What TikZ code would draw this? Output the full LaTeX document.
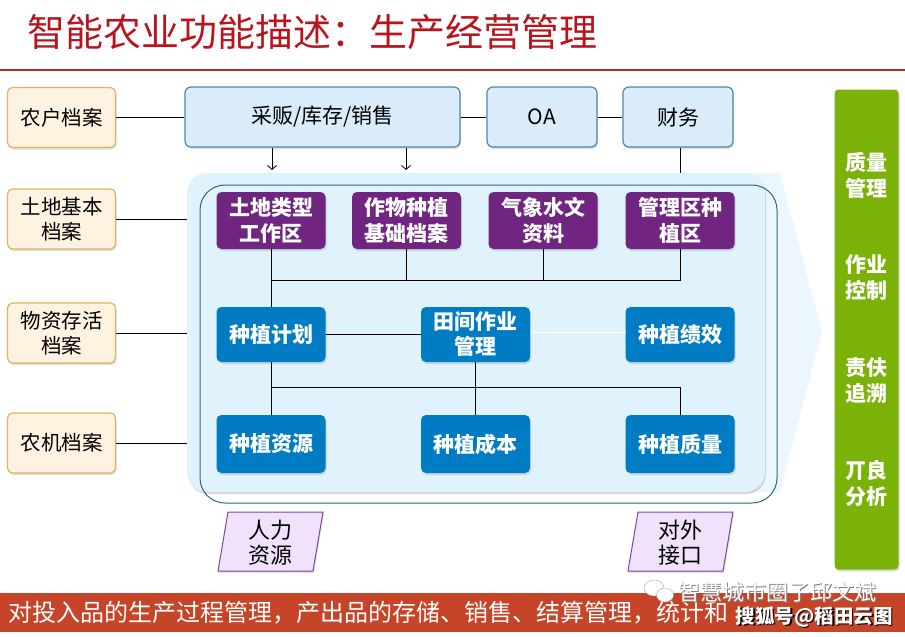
\documentclass[tikz,border=0pt]{standalone}
\usepackage{fontspec}
\setmainfont{Noto Sans CJK SC}
\usetikzlibrary{shadows,arrows.meta}
\definecolor{titlered}{RGB}{185,20,30}
\definecolor{linered}{RGB}{200,40,40}
\definecolor{leftfill}{RGB}{253,243,224}
\definecolor{leftdraw}{RGB}{225,178,100}
\definecolor{topfill}{RGB}{218,236,250}
\definecolor{topdraw}{RGB}{80,135,165}
\definecolor{purp}{RGB}{112,38,128}
\definecolor{blu}{RGB}{0,124,196}
\definecolor{grn}{RGB}{122,178,8}
\definecolor{parfill}{RGB}{240,226,250}
\definecolor{pardraw}{RGB}{125,70,160}
\definecolor{bannercol}{RGB}{198,68,40}
\definecolor{contfill}{RGB}{224,242,251}
\definecolor{chevfill}{RGB}{236,247,253}
\definecolor{tealline}{RGB}{45,105,125}
\tikzset{
  shad/.style={drop shadow={shadow xshift=1pt,shadow yshift=-2pt,opacity=0.25}},
  leftbox/.style={draw=leftdraw, fill=leftfill, rounded corners=5pt, line width=1.2pt,
    minimum width=108pt, minimum height=60pt, inner sep=0pt, align=center,
    font=\fontsize{20.5}{25}\selectfont, shad},
  topbox/.style={draw=topdraw, fill=topfill, rounded corners=6pt, line width=1.2pt,
    minimum height=60pt, inner sep=0pt, align=center,
    font=\fontsize{21}{25}\selectfont, shad},
  purpbox/.style={fill=purp, rounded corners=5pt, minimum width=109pt, minimum height=57pt,
    inner sep=0pt, align=center, text=white, font=\bfseries\fontsize{21}{26}\selectfont, shad},
  blubox/.style={fill=blu, rounded corners=5pt, minimum width=109pt,
    inner sep=0pt, align=center, text=white, font=\bfseries\fontsize{21}{25}\selectfont, shad},
  grntext/.style={text=white, align=center, font=\bfseries\fontsize{21}{26}\selectfont},
  parbox/.style={draw=pardraw, fill=parfill, line width=1pt, shad},
  partext/.style={align=center, font=\fontsize{22}{25}\selectfont},
  conn/.style={draw=black, line width=0.8pt},
}
\begin{document}
\begin{tikzpicture}[x=1pt,y=-1pt]
\useasboundingbox (0,0) rectangle (905,637);
% title
\node[anchor=west, text=titlered, inner sep=0pt, font=\fontsize{38}{40}\selectfont] (title) at (27,32) {智能农业功能描述：生产经营管理};
\draw[linered, line width=2pt] (0,70) -- (905,70);
% container
\fill[chevfill] (600,173) -- (780,173) -- (822,331) -- (780,492) -- (600,492) -- cycle;
\fill[contfill, rounded corners=20pt, drop shadow={shadow xshift=1pt,shadow yshift=-2pt,opacity=0.3}] (187,173) rectangle (765,492);
\draw[tealline, line width=1pt, rounded corners=25pt] (200,185) rectangle (777,503);
% left boxes
\node[leftbox] (l1) at (61.5,117.5) {农户档案};
\node[leftbox] (l2) at (61.5,219) {土地基本\\档案};
\node[leftbox] (l3) at (61.5,333) {物资存活\\档案};
\node[leftbox] (l4) at (61.5,443) {农机档案};
% top boxes
\node[topbox, minimum width=275pt] (t1) at (322.5,117) {采贩/库存/销售};
\node[topbox, minimum width=110pt] (t2) at (542,117) {OA};
\node[topbox, minimum width=110pt] (t3) at (678,117) {财务};
% purple boxes
\node[purpbox] (p1) at (271,220.5) {土地类型\\工作区};
\node[purpbox] (p2) at (406.5,220.5) {作物种植\\基础档案};
\node[purpbox] (p3) at (543,220.5) {气象水文\\资料};
\node[purpbox] (p4) at (680,220.5) {管理区种\\植区};
% blue boxes
\node[blubox, minimum height=55pt] (b1) at (271,334.5) {种植计划};
\node[blubox, minimum height=55pt] (b2) at (475.5,334.5) {田间作业\\管理};
\node[blubox, minimum height=55pt] (b3) at (680,334.5) {种植绩效};
\node[blubox, minimum height=58pt] (b4) at (271,444) {种植资源};
\node[blubox, minimum height=58pt] (b5) at (475.5,444) {种植成本};
\node[blubox, minimum height=58pt] (b6) at (680,444) {种植质量};
% green bar
\node[fill=grn, rounded corners=4pt, minimum width=64pt, minimum height=480pt, inner sep=0pt, shad] (g) at (866.5,329.5) {};
\node[grntext] (g1) at (866.5,175) {质量\\管理};
\node[grntext] (g2) at (866.5,278) {作业\\控制};
\node[grntext] (g3) at (866.5,381) {责伕\\追溯};
\node[grntext] (g4) at (866.5,483) {丌良\\分析};
% parallelograms
\path[parbox] (228,512) -- (323,512) -- (313,571) -- (218,571) -- cycle;
\node[partext] (hr) at (270.5,543) {人力\\资源};
\path[parbox] (638,512) -- (733,512) -- (723,571) -- (628,571) -- cycle;
\node[partext] (oi) at (680.5,543) {对外\\接口};
% coordinates
\coordinate (c2) at (187,219);
\coordinate (c3) at (187,333);
\coordinate (c4) at (187,443);
\coordinate (a1) at (272,170);
\coordinate (a2) at (406,170);
\coordinate (f1) at (680,173);
\coordinate (j) at (271,280);
\coordinate (k) at (271,387);
\coordinate (w1) at (530.5,332);
\coordinate (w2) at (625.5,332);
% connectors
\draw[conn] (l1.east) -- (l1.east -| t1.west);
\draw[conn] (l2.east) -- (c2);
\draw[conn] (l3.east) -- (c3);
\draw[conn] (l4.east) -- (c4);
\draw[conn] (t1.east) -- (t1.east -| t2.west);
\draw[conn] (t2.east) -- (t2.east -| t3.west);
\draw[conn, -{Straight Barb[length=4pt,width=9pt]}] (t1.south -| a1) -- (a1);
\draw[conn, -{Straight Barb[length=4pt,width=9pt]}] (t1.south -| a2) -- (a2);
\draw[conn] (t3.south -| f1) -- (f1);
\draw[conn] (p1.south) -- (j) -| (p4.south);
\draw[conn] (p2.south) -- (p2.south |- j);
\draw[conn] (p3.south) -- (p3.south |- j);
\draw[conn] (j) -- (b1.north);
\draw[conn] (b1.east) -- (b1.east -| b2.west);
\draw[white, line width=0.8pt] (w1) -- (w2);
\draw[conn] (b1.south) -- (b4.north);
\draw[conn] (k) -| (b6.north);
\draw[conn] (b2.south) -- (b5.north);
% banner
\fill[bannercol] (0,593) rectangle (905,632);
\node[anchor=west, text=white, inner sep=0pt, font=\fontsize{24}{26}\selectfont] (bt) at (8,613) {对投入品的生产过程管理，产出品的存储、销售、结算管理，统计和};
% watermarks
\fill[white, draw=gray!70] (654,588) ellipse (10pt and 8pt);
\fill[white, draw=gray!70] (665,595) ellipse (8.5pt and 7pt);
\node[anchor=west, text=gray, inner sep=0pt, font=\fontsize{22}{24}\selectfont] (wm1s) at (679,593) {智慧城市圈子邱文斌};
\node[anchor=west, text=white, inner sep=0pt, font=\fontsize{22}{24}\selectfont] (wm1) at (678,592) {智慧城市圈子邱文斌};
\node[anchor=west, text=black, inner sep=0pt, font=\bfseries\fontsize{19.5}{22}\selectfont] (wm2s) at (737,618) {搜狐号@稻田云图};
\node[anchor=west, text=white, inner sep=0pt, font=\bfseries\fontsize{19.5}{22}\selectfont] (wm2) at (735.5,616.5) {搜狐号@稻田云图};
\end{tikzpicture}
\end{document}
